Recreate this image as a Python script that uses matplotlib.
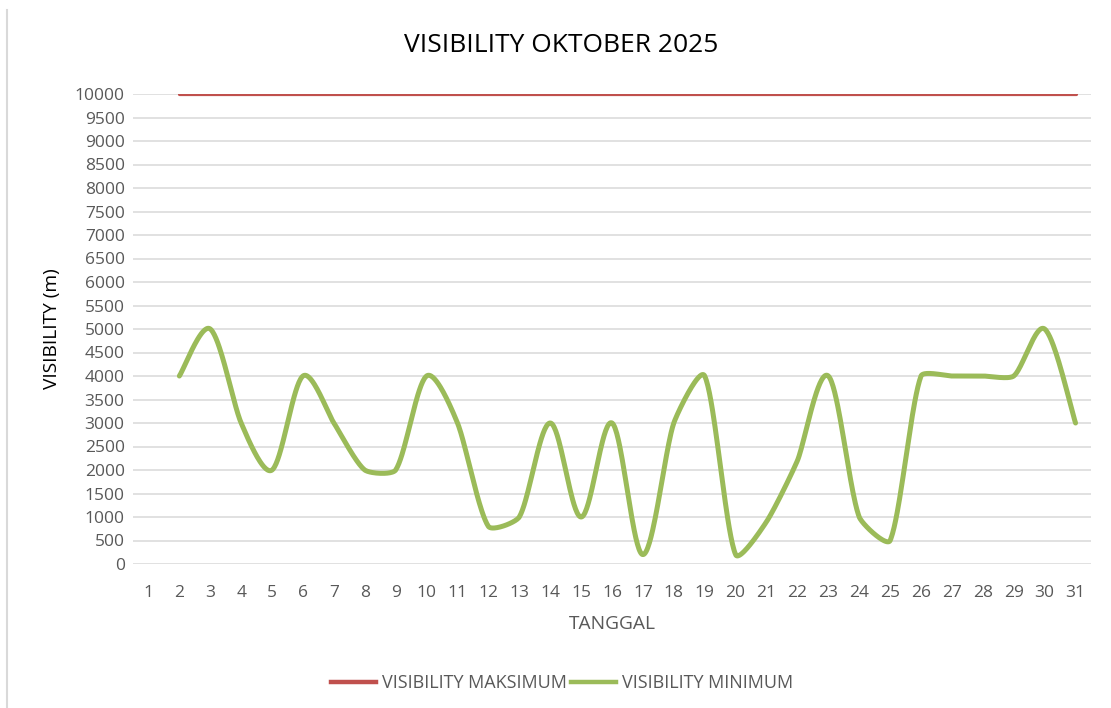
import numpy as np
import matplotlib
matplotlib.use("Agg")
import matplotlib.pyplot as plt
from matplotlib.lines import Line2D

# --- data ---
days = list(range(1, 32))
max_days = list(range(2, 32))
vis_max = [10000] * 30
min_days = list(range(2, 32))
vis_min = [4000, 5000, 3000, 2000, 4000, 3000, 2000, 2000, 4000, 3000,
           800, 1000, 3000, 1000, 3000, 200, 3000, 4000, 200, 900,
           2200, 4000, 1000, 500, 4000, 4000, 4000, 4000, 5000, 3000]
y_ticks = list(range(0, 10001, 500))

RED = '#C0504D'
GREEN = '#9BBB59'
GRAY = '#595959'
plt.rcParams['font.family'] = ['Open Sans', 'DejaVu Sans']

# pixel size of one day / one unit, so the smoothing works in screen space
SX = 958 / 31
SY = 470 / 10000


def smooth(x, y, r=0.2, n=40):
    # Excel-like smoothed line: catmull-rom handles, capped by segment length
    p = np.column_stack([np.asarray(x, float) * SX, np.asarray(y, float) * SY])
    m = len(p)
    h = np.array([(p[min(i + 1, m - 1)] - p[max(i - 1, 0)]) / 6 for i in range(m)])

    def cap(v, L):
        ln = np.hypot(*v)
        return v if ln <= r * L else v * (r * L / ln)

    t = np.linspace(0, 1, n)[:, None]
    out = []
    for i in range(m - 1):
        p0, p3 = p[i], p[i + 1]
        L = np.hypot(*(p3 - p0))
        c1 = p0 + cap(h[i], L)
        c2 = p3 - cap(h[i + 1], L)
        seg = (1 - t) ** 3 * p0 + 3 * (1 - t) ** 2 * t * c1 + 3 * (1 - t) * t ** 2 * c2 + t ** 3 * p3
        out.append(seg)
    out = np.vstack(out)
    return out[:, 0] / SX, out[:, 1] / SY


fig = plt.figure(figsize=(11.11, 7.08), dpi=100)
ax = fig.add_axes([133 / 1111, 1 - 564 / 708, 958 / 1111, 470 / 708])

ax.plot(max_days, vis_max, color=RED, lw=2.3, solid_capstyle='round', zorder=3)
sx, sy = smooth(min_days, vis_min)
ax.plot(sx, sy, color=GREEN, lw=3.6, solid_capstyle='round', zorder=3)

ax.set_xlim(0.5, 31.5)
ax.set_ylim(0, 10000)
ax.set_yticks(y_ticks)
ax.set_xticks(days)
ax.tick_params(length=0, labelsize=12.5, labelcolor=GRAY, pad=6)
ax.tick_params(axis='x', pad=15)
ax.grid(axis='y', color='#D9D9D9', lw=1.1)
ax.set_axisbelow(True)
for s in ax.spines.values():
    s.set_visible(False)

ax.set_xlabel('TANGGAL', fontsize=13.8, color=GRAY, labelpad=10)
ax.set_ylabel('VISIBILITY (m)', fontsize=13.8, color='#000000', labelpad=10)
fig.text(0.505, 1 - 46 / 708, 'VISIBILITY OKTOBER 2025', ha='center', va='center',
         fontsize=19, color='#000000')

handles = [Line2D([], [], color=RED, lw=3.2), Line2D([], [], color=GREEN, lw=3.2)]
fig.legend(handles, ['VISIBILITY MAKSIMUM', 'VISIBILITY MINIMUM'], loc='center',
           bbox_to_anchor=(0.506, 1 - 683 / 708), ncol=2, frameon=False,
           fontsize=13, labelcolor=GRAY, handlelength=2.5, handletextpad=0.33,
           columnspacing=0.22)

# left border of the chart area
fig.add_artist(Line2D([7 / 1111, 7 / 1111], [0, 1 - 10 / 708], color='#D9D9D9', lw=1.5))

fig.savefig('out.png', dpi=100, facecolor='white')
